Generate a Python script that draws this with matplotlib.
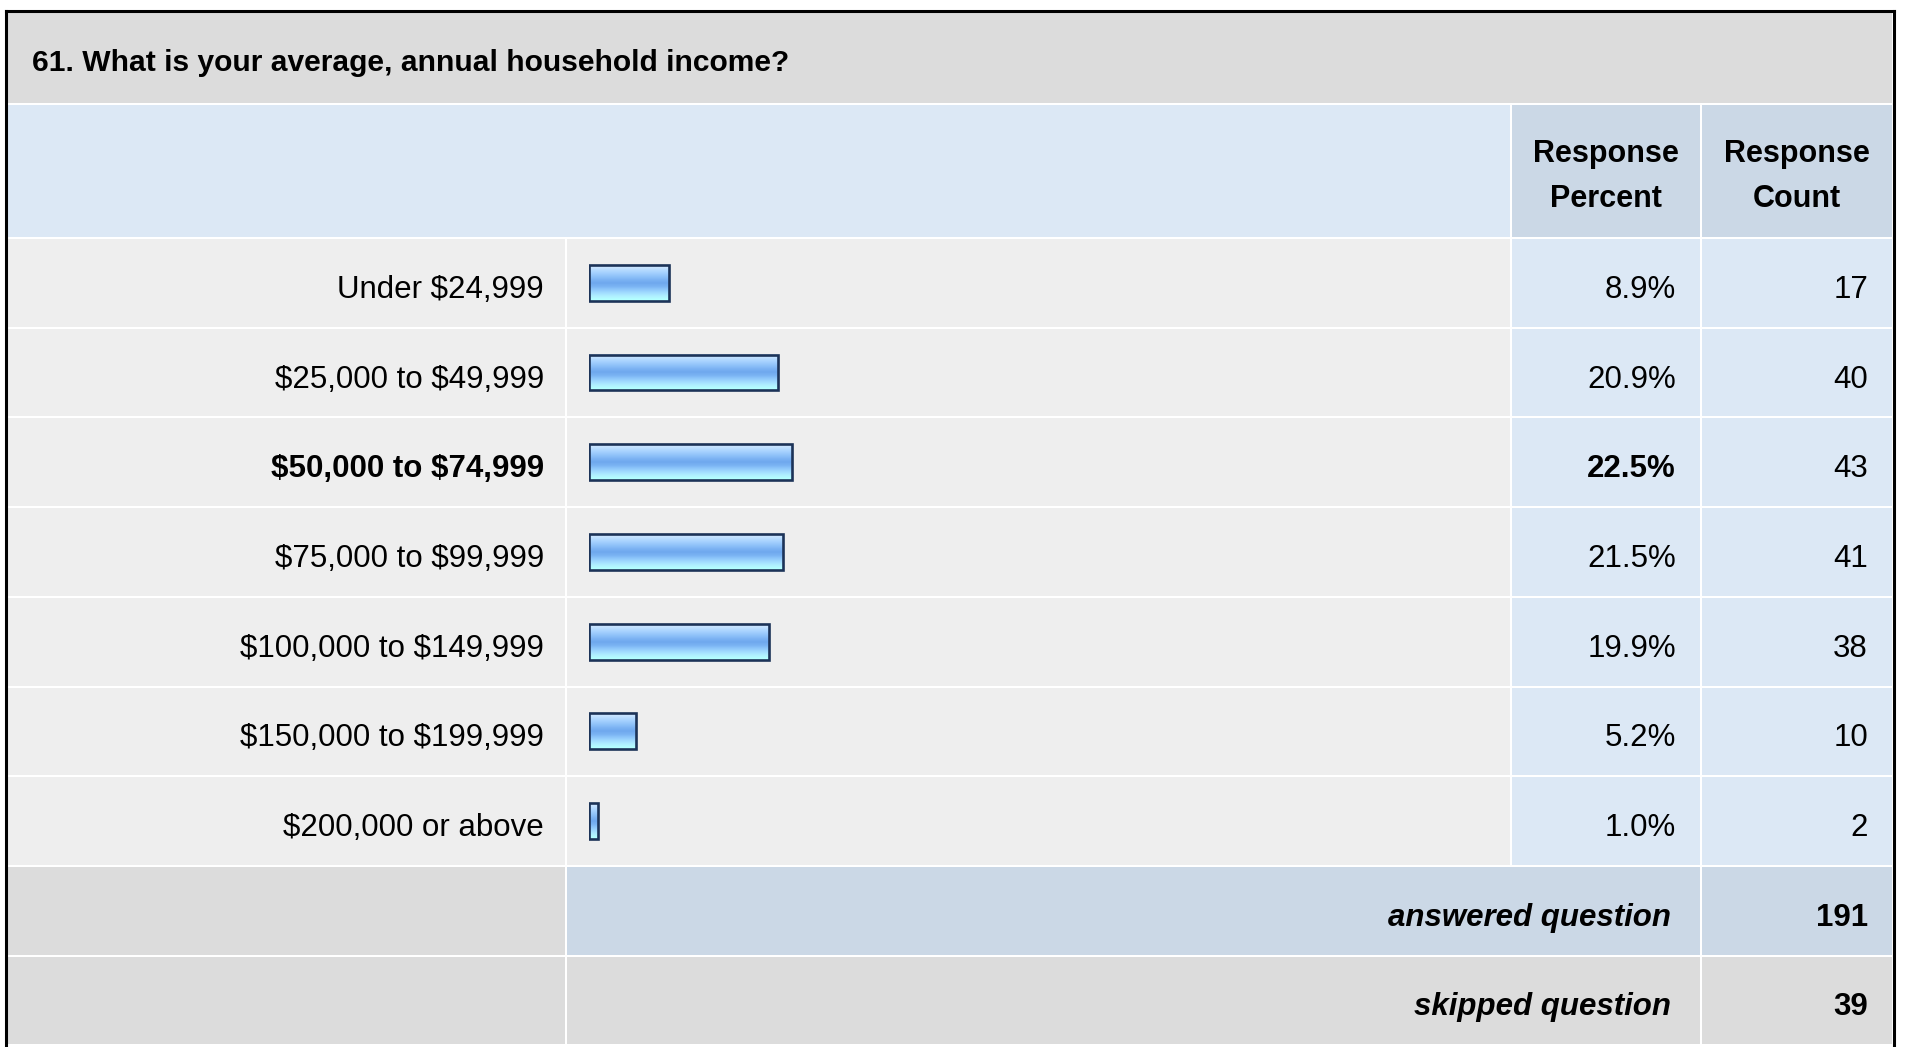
import numpy as np
import matplotlib
matplotlib.use("Agg")
import matplotlib.pyplot as plt
from matplotlib.patches import Rectangle
from matplotlib.colors import to_rgb

plt.rcParams["text.parse_math"] = False

# --- DATA ---
question = "61. What is your average, annual household income?"
categories = ["Under $24,999", "$25,000 to $49,999", "$50,000 to $74,999",
              "$75,000 to $99,999", "$100,000 to $149,999",
              "$150,000 to $199,999", "$200,000 or above"]
percents = [8.9, 20.9, 22.5, 21.5, 19.9, 5.2, 1.0]
counts = [17, 40, 43, 41, 38, 10, 2]
highlight = 2  # most frequent answer, shown in bold
answered = 191
skipped = 39

# --- STYLE ---
W, H = 1907, 1047
FONT = "Liberation Sans"
FS = 22.5
GREY = "#dcdcdc"
LIGHT = "#eeeeee"
BLUE = "#dce8f5"
BLUE2 = "#cbd8e6"
EDGE = "#1c3358"
grad_cols = ["#cfe7ff", "#b6dbff", "#a2cffe", "#8fc2f9", "#7cb3f3", "#6fa8ee",
             "#7ab3f3", "#8fc8fb", "#a2dcff", "#b0f0ff", "#b4ffff"]

# column / row edges in pixels
cx = [7, 566, 1511, 1701, 1893]
ry = [238 + 89.7 * k for k in range(10)]

fig = plt.figure(figsize=(W / 100, H / 100), dpi=100)
ax = fig.add_axes([0, 0, 1, 1])
ax.set_xlim(0, W)
ax.set_ylim(H, 0)
ax.axis("off")


def cell(x0, x1, y0, y1, color):
    ax.add_patch(Rectangle((x0 + 1, y0 + 1), x1 - x0 - 2, y1 - y0 - 2,
                           facecolor=color, edgecolor="none"))


def txt(x, y, s, ha="right", **kw):
    ax.text(x, y, s, fontsize=kw.pop("fontsize", FS), family=FONT,
            ha=ha, va="baseline", **kw)


# title + header
cell(cx[0], cx[4], 12, 104, GREY)
cell(cx[0], cx[2], 104, ry[0], BLUE)
cell(cx[2], cx[3], 104, ry[0], BLUE2)
cell(cx[3], cx[4], 104, ry[0], BLUE2)
txt(32, 71, question, ha="left", fontsize=21.6, fontweight="bold")
for xc, word in [((cx[2] + cx[3]) / 2, "Percent"), ((cx[3] + cx[4]) / 2, "Count")]:
    txt(xc, 162, "Response", ha="center", fontsize=FS - 0.5, fontweight="bold")
    txt(xc, 207, word, ha="center", fontsize=FS - 0.5, fontweight="bold")

# data rows
for i, (lab, p, c) in enumerate(zip(categories, percents, counts)):
    y0, y1 = ry[i], ry[i + 1]
    yb = (y0 + y1) / 2 + 15
    cell(cx[0], cx[1], y0, y1, LIGHT)
    cell(cx[1], cx[2], y0, y1, LIGHT)
    cell(cx[2], cx[3], y0, y1, BLUE)
    cell(cx[3], cx[4], y0, y1, BLUE)
    wt = "bold" if i == highlight else "normal"
    txt(544, yb, lab, fontweight=wt)
    txt(1676, yb, f"{p:.1f}%", fontweight=wt)
    txt(1868, yb, str(c))

# footer rows
n = len(categories)
for k, (lab, val, mid) in enumerate([("answered question", answered, BLUE2),
                                     ("skipped question", skipped, GREY)]):
    y0, y1 = ry[n + k], ry[n + k + 1]
    yb = (y0 + y1) / 2 + 15
    cell(cx[0], cx[1], y0, y1, GREY)
    cell(cx[1], cx[3], y0, y1, mid)
    cell(cx[3], cx[4], y0, y1, mid)
    txt(1671, yb, lab, fontweight="bold", style="italic")
    txt(1868, yb, str(val), fontweight="bold")

# outer frame
ax.plot([6, 6], [H, 11], color="black", lw=2.2, solid_capstyle="projecting")
ax.plot([6, 1893.5], [11, 11], color="black", lw=2.2, solid_capstyle="projecting")
ax.plot([1893.5, 1893.5], [11, H], color="black", lw=2.2, solid_capstyle="projecting")

# bars, on their own axes: 0..100 % across the bar area
bx0, bw = 589, 904
bax = fig.add_axes([bx0 / W, 1 - ry[n] / H, bw / W, (ry[n] - ry[0]) / H])
bax.set_facecolor("none")
bax.axis("off")
grad = np.array([to_rgb(c) for c in grad_cols])[:, None, :]
for i, p in enumerate(percents):
    bax.imshow(grad, extent=(0, p, i + 0.2, i - 0.2), aspect="auto",
               interpolation="bilinear")
    bax.add_patch(Rectangle((0, i - 0.2), p, 0.4, fill=False,
                            edgecolor=EDGE, lw=1.9))
bax.set_xlim(0, 100)
bax.set_ylim(n - 0.5, -0.5)

fig.savefig("out.png", dpi=100, facecolor="white")
